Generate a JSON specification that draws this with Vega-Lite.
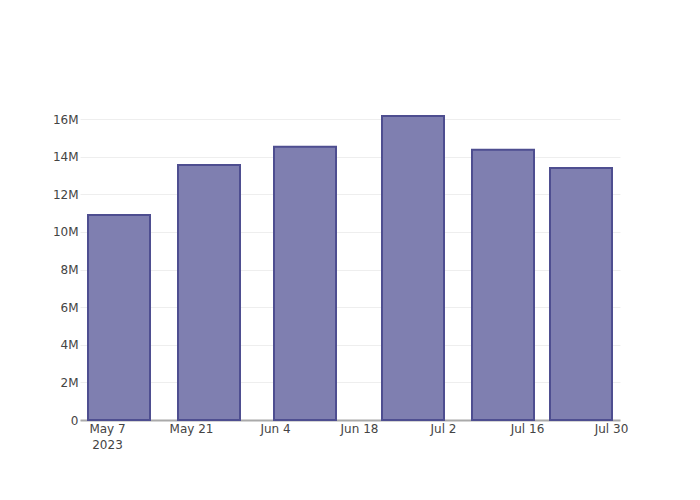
{
  "$schema": "https://vega.github.io/schema/vega-lite/v6.json",
  "width": 540,
  "height": 320,
  "autosize": "none",
  "padding": {"left": 80, "top": 100, "right": 80, "bottom": 80},
  "background": "white",
  "config": {
    "view": {"stroke": null},
    "font": "DejaVu Sans",
    "axis": {"labelFont": "DejaVu Sans", "labelFontSize": 12, "labelColor": "#444"}
  },
  "data": {
    "values": [
      {"date": "2023-05-09", "value": 10900000},
      {"date": "2023-05-24", "value": 13560000},
      {"date": "2023-06-09", "value": 14530000},
      {"date": "2023-06-27", "value": 16170000},
      {"date": "2023-07-12", "value": 14380000},
      {"date": "2023-07-25", "value": 13400000}
    ]
  },
  "mark": {"type": "bar", "width": 62, "fill": "#7f7fb0", "stroke": "#4e4e90", "strokeWidth": 2},
  "encoding": {
    "x": {
      "field": "date",
      "type": "temporal",
      "scale": {"type": "utc", "domain": ["2023-05-02T12:00:00Z", "2023-07-31T12:00:00Z"], "padding": 0},
      "axis": {
        "title": null,
        "values": ["2023-05-07T00:00:00Z", "2023-05-21T00:00:00Z", "2023-06-04T00:00:00Z", "2023-06-18T00:00:00Z", "2023-07-02T00:00:00Z", "2023-07-16T00:00:00Z", "2023-07-30T00:00:00Z"],
        "labelExpr": "datum.index == 0 ? [utcFormat(datum.value, '%b %-d'), '2023'] : utcFormat(datum.value, '%b %-d')",
        "grid": false,
        "ticks": false,
        "domainColor": "#aaaaaa",
        "domainWidth": 2,
        "labelPadding": 3,
        "labelLineHeight": 16
      }
    },
    "y": {
      "field": "value",
      "type": "quantitative",
      "scale": {"domain": [0, 17020000], "nice": false},
      "axis": {
        "title": null,
        "values": [0, 2000000, 4000000, 6000000, 8000000, 10000000, 12000000, 14000000, 16000000],
        "labelExpr": "datum.value == 0 ? '0' : format(datum.value, '~s')",
        "domain": false,
        "ticks": false,
        "gridColor": "#eeeeee",
        "labelPadding": 2
      }
    }
  }
}
